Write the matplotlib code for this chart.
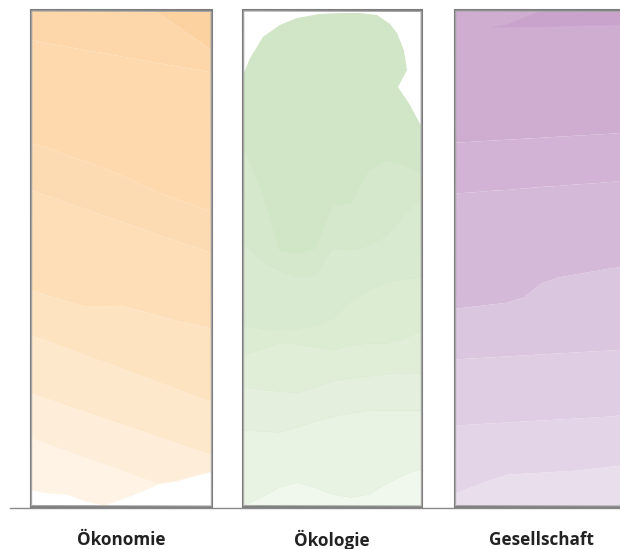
import matplotlib
matplotlib.use("Agg")
import matplotlib.pyplot as plt
from matplotlib.lines import Line2D

# categories
categories = ["Ökonomie", "Ökologie", "Gesellschaft"]

# sample positions across each box (fraction of box width)
xs = [0, 0.1, 0.2, 0.3, 0.4, 0.5, 0.6, 0.7, 0.8, 0.9, 1.0]

# layer boundaries, % of box height, listed bottom -> top
oeko_bounds = [
    [3.4, 2.8, 2.6, 1.2, 0.4, 1.6, 3.0, 4.6, 5.2, 6.2, 7.2],
    [13.9, 12.6, 11.3, 10.0, 8.7, 7.4, 6.0, 4.8, 5.4, 6.4, 7.4],
    [22.9, 21.7, 20.4, 19.2, 17.9, 16.7, 15.5, 14.2, 13.0, 11.7, 10.5],
    [34.6, 33.3, 31.9, 30.6, 29.2, 27.9, 26.5, 25.2, 23.8, 22.5, 21.1],
    [43.7, 42.5, 41.4, 40.4, 40.4, 40.6, 39.6, 38.6, 37.6, 36.8, 36.0],
    [63.8, 62.5, 61.2, 60.0, 58.7, 57.4, 56.2, 54.9, 53.6, 52.4, 51.1],
    [73.2, 72.2, 70.8, 69.6, 68.2, 66.8, 65.0, 63.4, 62.0, 60.8, 59.4],
    [94.0, 93.3, 92.7, 92.0, 91.4, 90.7, 90.1, 89.4, 88.8, 88.2, 87.5],
    [100, 100, 100, 100, 100, 100, 100, 99.4, 97.0, 94.4, 92.0],
    [100] * 11,
]
oeko_colors = ["#fef3e4", "#feeed9", "#fee8cc", "#fee3c1", "#fddeb7",
               "#fddbb2", "#fdd9ad", "#fdd7a9", "#fcd2a0"]

# Ökologie: outline of the top blob (x frac, %)
blob_x = [0, 0.039, 0.112, 0.207, 0.302, 0.430, 0.542, 0.654, 0.749, 0.821,
          0.860, 0.899, 0.916, 0.866, 0.933, 1.0]
blob_y = [86.9, 90.3, 94.6, 97.0, 98.4, 99.2, 99.4, 99.4, 99.0, 97.2,
          95.4, 91.9, 87.9, 84.5, 80.9, 76.3]
oekol_bounds = [
    [0] * 11,
    [0.4, 2.0, 4.0, 5.0, 4.0, 2.6, 2.0, 2.6, 4.8, 6.6, 7.8],
    [15.5, 15.3, 15.1, 16.1, 17.3, 18.3, 18.9, 19.5, 19.5, 19.5, 19.5],
    [24.1, 23.7, 23.3, 23.1, 24.1, 25.4, 26.0, 26.4, 26.8, 27.0, 27.0],
    [30.6, 31.8, 33.2, 32.8, 32.2, 31.6, 32.6, 33.0, 33.0, 34.0, 35.6],
    [36.6, 36.0, 35.6, 36.0, 36.6, 38.0, 41.6, 43.7, 45.3, 45.9, 46.3],
    [53.1, 49.7, 47.7, 46.3, 46.7, 52.1, 51.7, 52.7, 54.7, 58.8, 62.4],
    [72.2, 63.8, 51.7, 51.1, 52.1, 60.8, 61.2, 67.8, 69.8, 68.8, 67.2],
]
oekol_colors = ["#f0f7ec", "#e9f3e3", "#e4f0dd", "#e0eed8", "#dcecd3",
                "#d8eacf", "#d5e8cb"]
oekol_top = "#d1e6c6"

ges_bounds = [
    [0] * 11,
    [2.8, 4.2, 5.4, 6.6, 6.8, 7.0, 7.2, 7.4, 7.8, 8.2, 8.5],
    [16.5, 16.7, 16.9, 17.1, 17.3, 17.5, 17.7, 17.9, 18.1, 18.3, 18.7],
    [29.8, 30.0, 30.2, 30.4, 30.6, 30.8, 31.0, 31.2, 31.4, 31.6, 31.8],
    [40.0, 40.4, 40.8, 41.2, 42.3, 45.1, 46.3, 46.9, 47.5, 48.1, 48.5],
    [63.2, 63.4, 63.7, 63.9, 64.2, 64.5, 64.7, 65.0, 65.2, 65.5, 65.8],
    [73.4, 73.6, 73.8, 74.0, 74.2, 74.4, 74.6, 74.8, 75.0, 75.2, 75.4],
    [100] * 11,
]
ges_colors = ["#e9dfec", "#e4d4e7", "#dfcde3", "#dbc6e0", "#d5b9d8",
              "#d2b3d5", "#cfadd1"]
wedge_lo = [96.6, 96.6, 96.6, 96.6, 96.7, 96.7, 96.8, 96.9, 97.0, 97.0, 97.1]
wedge_hi = [96.6, 96.6, 96.6, 97.2, 98.6, 100, 100, 100, 100, 100, 100]
wedge_color = "#c9a3cb"

W, H = 620, 549
fig = plt.figure(figsize=(W / 100, H / 100), dpi=100)

# box positions in pixels (left, width)
boxes = [(31, 181), (243, 179), (455, 172)]
top_px, base_px = 10, 507
axes = []
for left, width in boxes:
    ax = fig.add_axes([left / W, (H - base_px) / H, width / W, (base_px - top_px) / H])
    ax.set_xlim(0, 1)
    ax.set_ylim(0, 100)
    ax.axis("off")
    axes.append(ax)

# Ökonomie
ax = axes[0]
for i, c in enumerate(oeko_colors):
    ax.fill_between(xs, oeko_bounds[i], oeko_bounds[i + 1], color=c, lw=0)

# Ökologie: blob first, lower bands painted over it
ax = axes[1]
ax.fill(blob_x + [1, 0], blob_y + [0, 0], color=oekol_top, lw=0)
for i, c in enumerate(oekol_colors):
    ax.fill_between(xs, oekol_bounds[i], oekol_bounds[i + 1], color=c, lw=0)

# Gesellschaft
ax = axes[2]
for i, c in enumerate(ges_colors):
    ax.fill_between(xs, ges_bounds[i], ges_bounds[i + 1], color=c, lw=0)
ax.fill_between(xs, wedge_lo, wedge_hi, color=wedge_color, lw=0)

# sketchy grey frames
for ax in axes:
    ax.plot([0, 1, 1, 0, 0], [0, 0, 100, 100, 0], color="#7d7d7d", lw=1.5,
            clip_on=False, solid_joinstyle="miter")
    ax.plot([0.003, 0.997, 0.995, 0.004, 0.003], [0.3, 0.2, 99.7, 99.8, 0.3],
            color="#a8a8a8", lw=0.8, clip_on=False)

# baseline
fig.add_artist(Line2D([10 / W, 1], [(H - 508) / H] * 2, color="#8a8a8a", lw=1.0))

# labels
label_x = [121, 332, 541]
for name, lx in zip(categories, label_x):
    fig.text(lx / W, (H - 540) / H, name, ha="center", va="center",
             fontsize=12.3, fontweight="bold", family="Open Sans", color="#222222")

fig.savefig("out.png", dpi=100)
